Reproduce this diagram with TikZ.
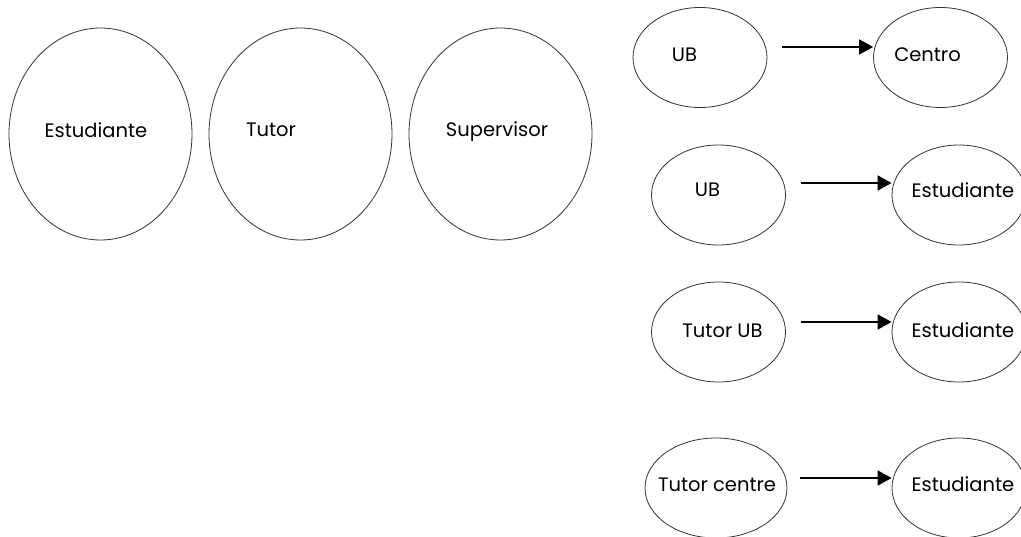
\documentclass[tikz,border=0pt]{standalone}
\usepackage{fontspec}
\setmainfont{Poppins}
\usetikzlibrary{shapes.geometric,arrows.meta}
\begin{document}
\begin{tikzpicture}
		[x=1pt,y=-1pt,
		big/.style={draw=black!80,line width=0.8pt,ellipse,
			minimum width=183pt,minimum height=212pt,inner sep=0pt},
		small/.style={draw=black!80,line width=0.8pt,ellipse,
			minimum width=134pt,minimum height=100pt,inner sep=0pt},
		txt/.style={anchor=base,inner sep=0pt,
			font=\fontsize{19.5}{22}\selectfont},
		arr/.style={line width=1.8pt,-{Triangle[length=14pt,width=15pt]}}]
		\clip (0,0) rectangle (1021,537);
		% left
		\node[big] (estudiante) at (100.5,134) {};
		\node[big] (tutor) at (300.5,134) {};
		\node[big] (supervisor) at (500.5,134) {};
		\node[txt] (estudiante-t) at ([xshift=-4.5pt,yshift=-4pt]estudiante.center) {Estudiante};
		\node[txt] (tutor-t) at ([xshift=-29.5pt,yshift=-3pt]tutor.center) {Tutor};
		\node[txt] (supervisor-t) at ([xshift=-3.5pt,yshift=-3pt]supervisor.center) {Supervisor};
		% right
		\node[small] (ub1) at (700,57.5) {};
		\node[small] (centro) at (940.5,57.5) {};
		\node[small] (ub2) at (718.5,195) {};
		\node[small] (est2) at (959,195) {};
		\node[small] (tutorub) at (718.5,332) {};
		\node[small] (est3) at (959,332) {};
		\node[small,minimum width=142pt] (tutorcentre) at (716,488) {};
		\node[small] (est4) at (959,488) {};
		\node[txt] (ub1-t) at ([xshift=-15.5pt,yshift=-4.5pt]ub1.center) {UB};
		\node[txt] (centro-t) at ([xshift=-13pt,yshift=-4.5pt]centro.center) {Centro};
		\node[txt] (ub2-t) at ([xshift=-11pt,yshift=-2pt]ub2.center) {UB};
		\node[txt] (est2-t) at ([xshift=4pt,yshift=-3pt]est2.center) {Estudiante};
		\node[txt] (tutorub-t) at ([xshift=4pt,yshift=-6pt]tutorub.center) {Tutor UB};
		\node[txt] (est3-t) at ([xshift=4pt,yshift=-6pt]est3.center) {Estudiante};
		\node[txt] (tutorcentre-t) at ([xshift=1pt,yshift=-4pt]tutorcentre.center) {Tutor centre};
		\node[txt] (est4-t) at ([xshift=4pt,yshift=-4pt]est4.center) {Estudiante};
		% arrows
		\draw[arr] ([xshift=15pt,yshift=10.5pt]ub1.east) -- ([yshift=10.5pt]centro.west);
		\draw[arr] ([xshift=15pt,yshift=12pt]ub2.east) -- ([yshift=12pt]est2.west);
		\draw[arr] ([xshift=15pt,yshift=10pt]tutorub.east) -- ([yshift=10pt]est3.west);
		\draw[arr] ([xshift=13pt,yshift=10pt]tutorcentre.east) -- ([yshift=10pt]est4.west);
\end{tikzpicture}
\end{document}
